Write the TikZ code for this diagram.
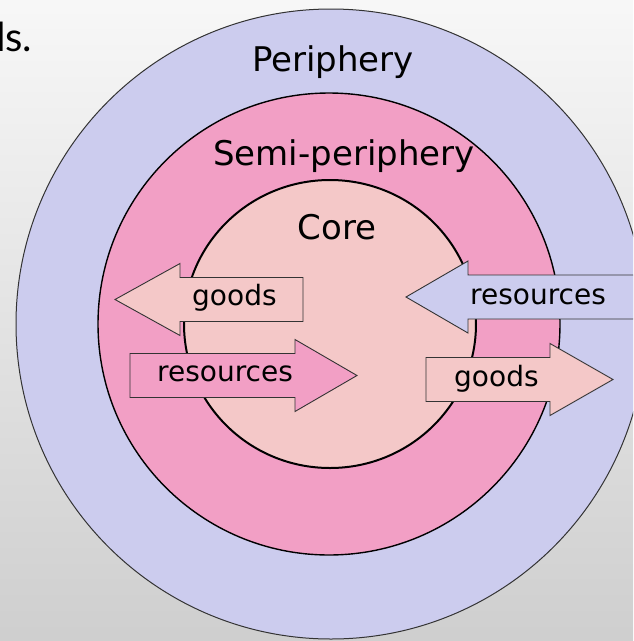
\documentclass[tikz,border=0pt]{standalone}
\usepackage{fontspec}
\setmainfont{DejaVu Sans}
\newfontfamily\slidefont{Lato}
\definecolor{periph}{HTML}{CCCCEE}
\definecolor{semiper}{HTML}{F29FC5}
\definecolor{corecol}{HTML}{F4C8C8}
\def\blockarrow[#1](#2,#3)(#4:#5){\draw[#1] (#2,#3-22) -- (#5,#3-22) -- (#5,#3-36) -- (#4,#3) -- (#5,#3+36) -- (#5,#3+22) -- (#2,#3+22) -- cycle;}
\tikzset{
  ringlabel/.style={font=\fontsize{34}{40}\selectfont, inner sep=0, anchor=base},
  flowlabel/.style={font=\fontsize{28}{32}\selectfont, inner sep=0, anchor=base west},
  flowarrow/.style={draw=black!80, line width=0.9pt}
}

\begin{document}
\begin{tikzpicture}[x=1pt,y=-1pt]
		%%%%% START %%%%%
		\useasboundingbox (0,0) rectangle (633,641);
		\clip (0,0) rectangle (633,641);
		\shade[top color=black!3, bottom color=black!19] (0,0) rectangle (633,641);
		
		\node[anchor=base west, inner sep=0, font=\slidefont\fontsize{40}{48}\selectfont] (word) at (-17,51) {ds.};
		
		\draw[fill=periph, draw=black!80, line width=1pt] (331,324) circle (315pt);
		\draw[fill=semiper, line width=1.4pt] (329,324) circle (231pt);
		\draw[fill=corecol, line width=2pt] (330,324) circle [x radius=146pt, y radius=144pt];
		
		\blockarrow[flowarrow, fill=corecol](303,299.5)(115:180);
		\blockarrow[flowarrow, fill=semiper](130,375.5)(357:295);
		\blockarrow[flowarrow, fill=periph](634,297)(406:468);
		\blockarrow[flowarrow, fill=corecol](426,379.5)(613:550);
		
		\node[ringlabel] (periphery) at (333,71) {Periphery};
		\node[ringlabel] (semi) at (344,165) {Semi-periphery};
		\node[ringlabel] (core) at (337,239) {Core};
		
		\node[flowlabel] (goodsout) at (192,305) {goods};
		\node[flowlabel] (resin) at (157,381.5) {resources};
		\node[flowlabel] (resout) at (470,304) {resources};
		\node[flowlabel] (goodsin) at (454,386) {goods};
		%%%%% END %%%%%
\end{tikzpicture}
\end{document}
